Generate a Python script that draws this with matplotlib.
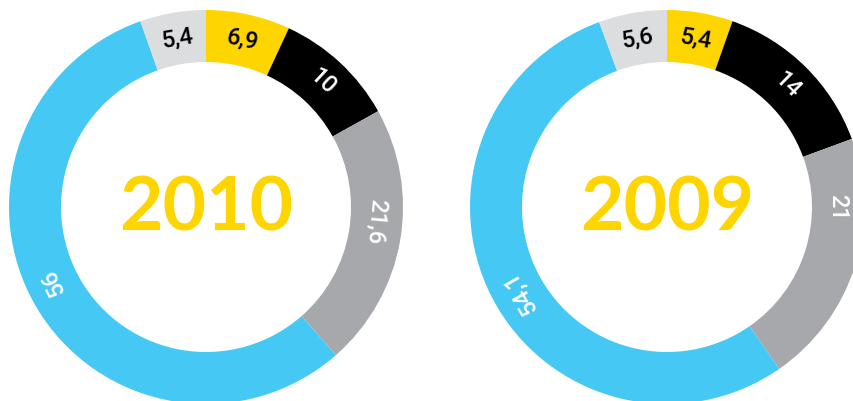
import numpy as np
import matplotlib.pyplot as plt

# shares per year, clockwise from 12 o'clock
years = ["2010", "2009"]
values_2010 = [6.9, 10, 21.6, 56, 5.4]
values_2009 = [5.4, 14, 21, 54.1, 5.6]
labels_2010 = ["6,9", "10", "21,6", "56", "5,4"]
labels_2009 = ["5,4", "14", "21", "54,1", "5,6"]

colors = ["#FFD500", "#000000", "#A7A8AB", "#46C8F5", "#DCDDDE"]
text_colors = ["#000000", "#FFFFFF", "#FFFFFF", "#FFFFFF", "#000000"]

# label angles that were nudged off the slice middle (degrees clockwise from top)
nudges_2010 = {2: 95, 3: 244}
nudges_2009 = {2: 90, 3: 240}

W, H = 854, 401
fig = plt.figure(figsize=(W / 100, H / 100), dpi=100)
ax = fig.add_axes([0, 0, 1, 1])

R = 197
ring = 52
centers = [(206, H - 207), (667, H - 207)]


def donut(vals, labs, year, center, nudges):
    wedges, _ = ax.pie(vals, colors=colors, startangle=90, counterclock=False,
                       radius=R, center=center, frame=True,
                       wedgeprops=dict(width=ring, linewidth=0))
    for i, (w, lab, tc) in enumerate(zip(wedges, labs, text_colors)):
        phi = 0.5 * (w.theta1 + w.theta2)
        if i in nudges:
            phi = 90 - nudges[i]
        rr = R - ring / 2
        x = center[0] + rr * np.cos(np.radians(phi))
        y = center[1] + rr * np.sin(np.radians(phi))
        ax.text(x, y, lab, color=tc, fontsize=17, fontweight="medium",
                family="Roboto", rotation=phi - 90,
                rotation_mode="anchor", ha="center", va="center")
    ax.text(center[0], center[1] - 2, year, color="#FFD500", fontsize=54,
            fontweight="bold", family="Lato", ha="center", va="center")


donut(values_2010, labels_2010, years[0], centers[0], nudges_2010)
donut(values_2009, labels_2009, years[1], centers[1], nudges_2009)

ax.set_xlim(0, W)
ax.set_ylim(0, H)
ax.set_aspect("equal")
ax.axis("off")

plt.savefig("out.png", dpi=100)
